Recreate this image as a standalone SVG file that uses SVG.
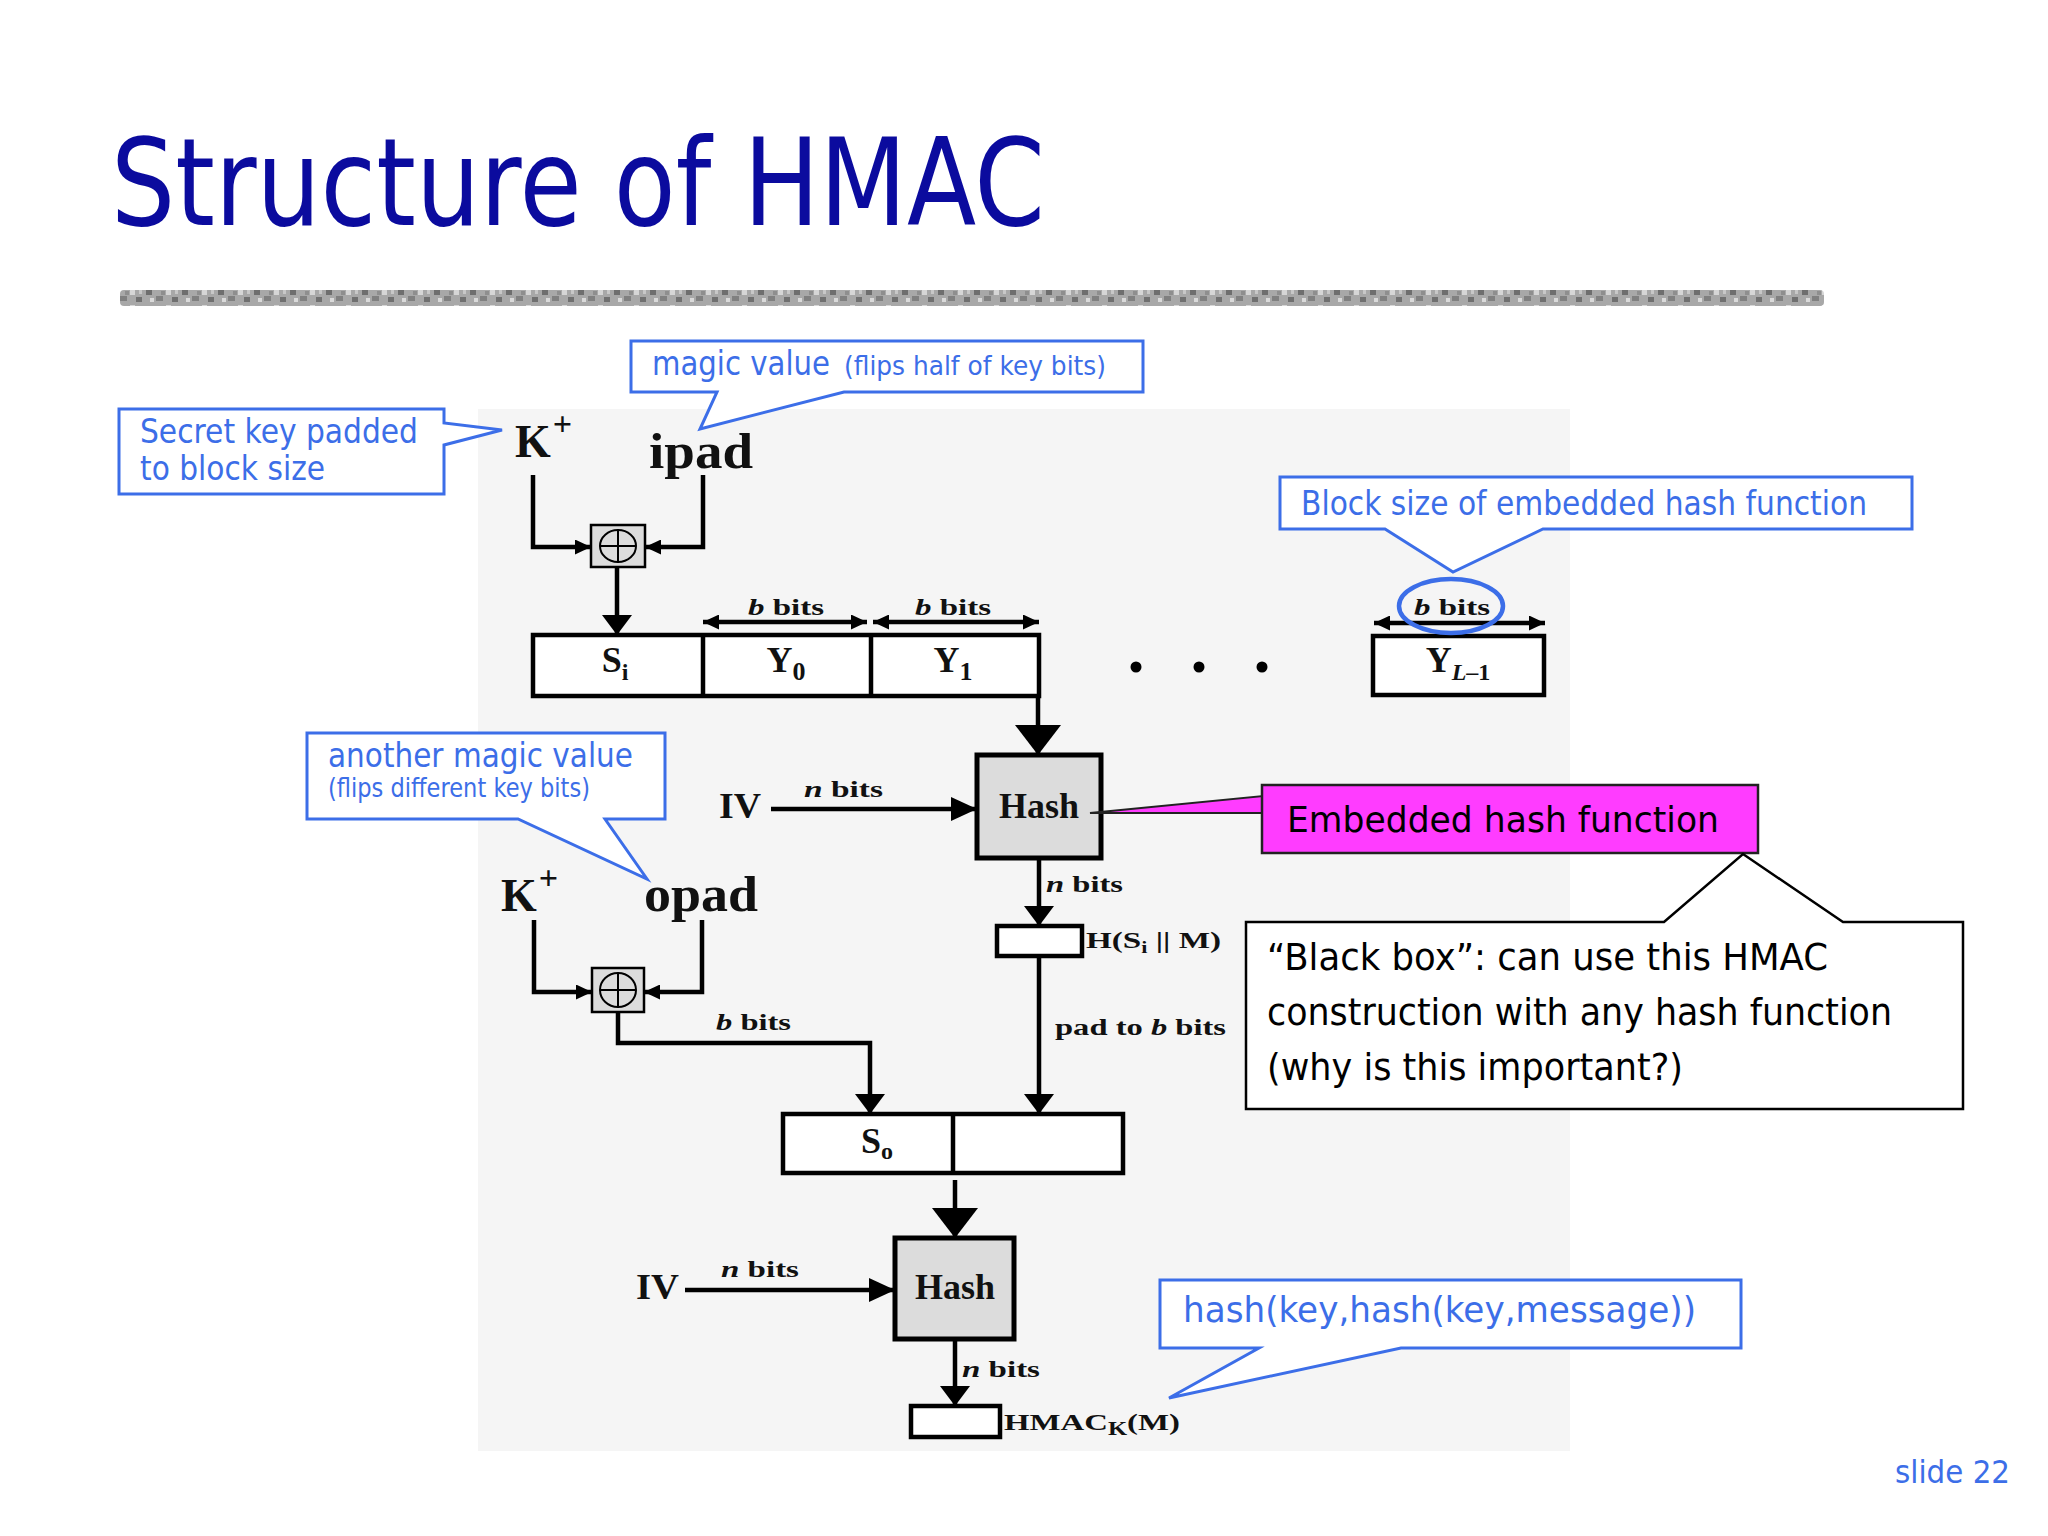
<svg xmlns="http://www.w3.org/2000/svg" width="2048" height="1536" viewBox="0 0 2048 1536">
<style>
.blue{fill:#3c6ee8;font-family:"DejaVu Sans","Liberation Sans",sans-serif}
.call{fill:#ffffff;stroke:#3c6ee8;stroke-width:3;stroke-linejoin:miter}
.dia{font-family:"Liberation Serif","Times New Roman",serif;font-weight:bold;fill:#111}
.ln{fill:none;stroke:#000;stroke-width:4.5}
.box{fill:#ffffff;stroke:#000;stroke-width:4.5}
.hash{fill:#dcdcdc;stroke:#000;stroke-width:5}
.xor{fill:#dcdcdc;stroke:#000;stroke-width:2.5}
.sans{font-family:"DejaVu Sans","Liberation Sans",sans-serif;fill:#000}
</style>
<defs>
<marker id="sm" viewBox="0 0 16 15" refX="16" refY="7.5" markerWidth="16" markerHeight="15" markerUnits="userSpaceOnUse" orient="auto-start-reverse"><path d="M0,0 L16,7.5 L0,15 Z" fill="#000"/></marker>
<marker id="iv" viewBox="0 0 26 24" refX="26" refY="12" markerWidth="26" markerHeight="24" markerUnits="userSpaceOnUse" orient="auto"><path d="M0,0 L26,12 L0,24 Z" fill="#000"/></marker>
<marker id="mid" viewBox="0 0 20 30" refX="20" refY="15" markerWidth="20" markerHeight="30" markerUnits="userSpaceOnUse" orient="auto"><path d="M0,0 L20,15 L0,30 Z" fill="#000"/></marker>
<marker id="big" viewBox="0 0 30 46" refX="30" refY="23" markerWidth="30" markerHeight="46" markerUnits="userSpaceOnUse" orient="auto"><path d="M0,0 L30,23 L0,46 Z" fill="#000"/></marker>
<pattern id="noise" width="36" height="16" patternUnits="userSpaceOnUse">
<rect width="36" height="16" fill="#a8a8a8"/>
<rect x="2" y="2" width="6" height="5" fill="#6e6e6e"/>
<rect x="12" y="8" width="7" height="5" fill="#808080"/>
<rect x="22" y="1" width="5" height="6" fill="#d6d6d6"/>
<rect x="28" y="9" width="6" height="5" fill="#707070"/>
<rect x="6" y="10" width="4" height="4" fill="#dadada"/>
<rect x="17" y="3" width="4" height="4" fill="#8e8e8e"/>
<rect x="31" y="2" width="3" height="4" fill="#c8c8c8"/>
</pattern>
</defs>
<rect width="2048" height="1536" fill="#ffffff"/>
<text x="111" y="225" font-family="DejaVu Sans, Liberation Sans, sans-serif" font-size="122" fill="#0b0b9e" textLength="934" lengthAdjust="spacingAndGlyphs">Structure of HMAC</text>
<rect x="120" y="290" width="1704" height="16" rx="4" fill="url(#noise)"/>
<rect x="478" y="409" width="1092" height="1042" fill="#f5f5f5"/>

<g id="connectors">
<path class="ln" d="M533,475 V547 H591" marker-end="url(#sm)"/>
<path class="ln" d="M703,475 V547 H645" marker-end="url(#sm)"/>
<path class="ln" d="M617,567 V635" marker-end="url(#mid)"/>
<path class="ln" d="M703,622 H867" marker-start="url(#sm)" marker-end="url(#sm)"/>
<path class="ln" d="M873,622 H1039" marker-start="url(#sm)" marker-end="url(#sm)"/>
<path class="ln" d="M1374,623 H1545" marker-start="url(#sm)" marker-end="url(#sm)"/>
<path class="ln" d="M1038,698 V755" marker-end="url(#big)"/>
<path class="ln" d="M771,809 H977" marker-end="url(#iv)"/>
<path class="ln" d="M1039,860 V926" marker-end="url(#mid)"/>
<path class="ln" d="M1039,956 V1114" marker-end="url(#mid)"/>
<path class="ln" d="M534,920 V992 H592" marker-end="url(#sm)"/>
<path class="ln" d="M702,920 V992 H644" marker-end="url(#sm)"/>
<path class="ln" d="M618,1012 V1043 H870 V1114" marker-end="url(#mid)"/>
<path class="ln" d="M955,1180 V1238" marker-end="url(#big)"/>
<path class="ln" d="M685,1290 H895" marker-end="url(#iv)"/>
<path class="ln" d="M955,1341 V1406" marker-end="url(#mid)"/>
</g>

<g id="kplus1">
<text class="dia" x="515" y="457" font-size="46">K<tspan font-size="34" dx="2" dy="-22">+</tspan></text>
</g>
<g id="ipad">
<text class="dia" x="649" y="468" font-size="50" textLength="104" lengthAdjust="spacingAndGlyphs">ipad</text>
</g>
<g id="xor1">
<rect class="xor" x="591" y="525" width="54" height="42"/>
<ellipse cx="618" cy="546" rx="18" ry="16" fill="none" stroke="#000" stroke-width="2"/>
<path d="M600,546 H636 M618,530 V562" stroke="#000" stroke-width="2"/>
</g>
<g id="row">
<rect class="box" x="533" y="635" width="506" height="61"/>
<path class="ln" d="M703,635 V696 M871,635 V696"/>
<text class="dia" x="615" y="672" font-size="36" text-anchor="middle">S<tspan font-size="24" dy="8">i</tspan></text>
<text class="dia" x="786" y="672" font-size="36" text-anchor="middle">Y<tspan font-size="26" dy="8">0</tspan></text>
<text class="dia" x="953" y="672" font-size="36" text-anchor="middle">Y<tspan font-size="26" dy="8">1</tspan></text>
<text class="dia" x="786" y="615" font-size="24" text-anchor="middle" textLength="76" lengthAdjust="spacingAndGlyphs"><tspan font-style="italic">b</tspan> bits</text>
<text class="dia" x="953" y="615" font-size="24" text-anchor="middle" textLength="76" lengthAdjust="spacingAndGlyphs"><tspan font-style="italic">b</tspan> bits</text>
</g>
<g id="dots">
<circle cx="1136" cy="667" r="5.5" fill="#000"/>
<circle cx="1199" cy="667" r="5.5" fill="#000"/>
<circle cx="1262" cy="667" r="5.5" fill="#000"/>
</g>
<g id="yl1">
<rect class="box" x="1373" y="636" width="171" height="59"/>
<text class="dia" x="1458" y="672" font-size="36" text-anchor="middle">Y<tspan font-size="24" dy="8" font-style="italic">L</tspan><tspan font-size="24">–1</tspan></text>
<text class="dia" x="1452" y="615" font-size="24" text-anchor="middle" textLength="76" lengthAdjust="spacingAndGlyphs"><tspan font-style="italic">b</tspan> bits</text>
<ellipse cx="1451" cy="606" rx="52" ry="27" fill="none" stroke="#3c6ee8" stroke-width="4.5"/>
</g>
<g id="hash1">
<rect class="hash" x="977" y="755" width="124" height="103"/>
<text class="dia" x="1039" y="818" font-size="36" text-anchor="middle">Hash</text>
</g>
<g id="iv1">
<text class="dia" x="719" y="818" font-size="36" textLength="42" lengthAdjust="spacingAndGlyphs">IV</text>
<text class="dia" x="804" y="797" font-size="24" textLength="79" lengthAdjust="spacingAndGlyphs"><tspan font-style="italic">n</tspan> bits</text>
</g>
<g id="hbox">
<text class="dia" x="1046" y="892" font-size="24" textLength="77" lengthAdjust="spacingAndGlyphs"><tspan font-style="italic">n</tspan> bits</text>
<rect class="box" x="997" y="926" width="85" height="30"/>
<text class="dia" x="1086" y="948" font-size="24" textLength="135" lengthAdjust="spacingAndGlyphs">H(S<tspan font-size="16" dy="5">i</tspan><tspan dy="-5"> || M)</tspan></text>
<text class="dia" x="1055" y="1035" font-size="24" textLength="171" lengthAdjust="spacingAndGlyphs">pad to <tspan font-style="italic">b</tspan> bits</text>
</g>
<g id="kplus2">
<text class="dia" x="501" y="911" font-size="46">K<tspan font-size="34" dx="2" dy="-22">+</tspan></text>
</g>
<g id="opad">
<text class="dia" x="644" y="911" font-size="50" textLength="114" lengthAdjust="spacingAndGlyphs">opad</text>
</g>
<g id="xor2">
<rect class="xor" x="592" y="968" width="52" height="44"/>
<ellipse cx="618" cy="990" rx="18" ry="17" fill="none" stroke="#000" stroke-width="2"/>
<path d="M600,990 H636 M618,973 V1007" stroke="#000" stroke-width="2"/>
<text class="dia" x="716" y="1030" font-size="24" textLength="75" lengthAdjust="spacingAndGlyphs"><tspan font-style="italic">b</tspan> bits</text>
</g>
<g id="so">
<rect class="box" x="783" y="1114" width="340" height="59"/>
<path class="ln" d="M953,1114 V1173"/>
<text class="dia" x="877" y="1153" font-size="36" text-anchor="middle">S<tspan font-size="24" dy="6">o</tspan></text>
</g>
<g id="hash2">
<rect class="hash" x="895" y="1238" width="119" height="101"/>
<text class="dia" x="955" y="1299" font-size="36" text-anchor="middle">Hash</text>
</g>
<g id="iv2">
<text class="dia" x="636" y="1299" font-size="36" textLength="43" lengthAdjust="spacingAndGlyphs">IV</text>
<text class="dia" x="721" y="1277" font-size="24" textLength="78" lengthAdjust="spacingAndGlyphs"><tspan font-style="italic">n</tspan> bits</text>
</g>
<g id="hmac">
<text class="dia" x="962" y="1377" font-size="24" textLength="78" lengthAdjust="spacingAndGlyphs"><tspan font-style="italic">n</tspan> bits</text>
<rect class="box" x="911" y="1406" width="89" height="31"/>
<text class="dia" x="1004" y="1430" font-size="24" textLength="176" lengthAdjust="spacingAndGlyphs">HMAC<tspan font-size="18" dy="5">K</tspan><tspan dy="-5">(M)</tspan></text>
</g>

<g id="callout-secret">
<path class="call" d="M119,409 H444 V423 L502,430 L444,445 V494 H119 Z"/>
<text class="blue" x="140" y="443" font-size="34" textLength="278" lengthAdjust="spacingAndGlyphs">Secret key padded</text>
<text class="blue" x="140" y="480" font-size="34" textLength="185" lengthAdjust="spacingAndGlyphs">to block size</text>
</g>
<g id="callout-magic">
<path class="call" d="M631,341 H1143 V392 H844 L700,429 L717,392 H631 Z"/>
<text class="blue" x="652" y="375" font-size="34" textLength="178" lengthAdjust="spacingAndGlyphs">magic value</text>
<text class="blue" x="844" y="375" font-size="27" textLength="262" lengthAdjust="spacingAndGlyphs">(flips half of key bits)</text>
</g>
<g id="callout-block">
<path class="call" d="M1280,477 H1912 V529 H1543 L1453,572 L1385,529 H1280 Z"/>
<text class="blue" x="1301" y="515" font-size="34" textLength="566" lengthAdjust="spacingAndGlyphs">Block size of embedded hash function</text>
</g>
<g id="callout-another">
<path class="call" d="M307,733 H665 V819 H605 L647,879 L518,819 H307 Z"/>
<text class="blue" x="328" y="767" font-size="34" textLength="305" lengthAdjust="spacingAndGlyphs">another magic value</text>
<text class="blue" x="328" y="797" font-size="27" textLength="262" lengthAdjust="spacingAndGlyphs">(flips different key bits)</text>
</g>
<g id="callout-embedded">
<polygon points="1090,813 1263,796 1263,813" fill="#ff3cff" stroke="#222" stroke-width="2"/>
<rect x="1262" y="785" width="496" height="68" fill="#ff3cff" stroke="#222" stroke-width="2.5"/>
<text class="sans" x="1287" y="832" font-size="36" textLength="432" lengthAdjust="spacingAndGlyphs">Embedded hash function</text>
</g>
<g id="callout-blackbox">
<path d="M1246,922 H1664 L1743,854 L1843,922 H1963 V1109 H1246 Z" fill="#ffffff" stroke="#000" stroke-width="2.5"/>
<text class="sans" x="1267" y="970" font-size="38" textLength="561" lengthAdjust="spacingAndGlyphs">“Black box”: can use this HMAC</text>
<text class="sans" x="1267" y="1025" font-size="38" textLength="625" lengthAdjust="spacingAndGlyphs">construction with any hash function</text>
<text class="sans" x="1267" y="1080" font-size="38" textLength="416" lengthAdjust="spacingAndGlyphs">(why is this important?)</text>
</g>
<g id="callout-hash">
<path class="call" d="M1160,1280 H1741 V1348 H1401 L1169,1398 L1259,1348 H1160 Z"/>
<text class="blue" x="1183" y="1322" font-size="36" textLength="513" lengthAdjust="spacingAndGlyphs">hash(key,hash(key,message))</text>
</g>
<text class="blue" x="1895" y="1483" font-size="32" textLength="115" lengthAdjust="spacingAndGlyphs">slide 22</text>
</svg>
